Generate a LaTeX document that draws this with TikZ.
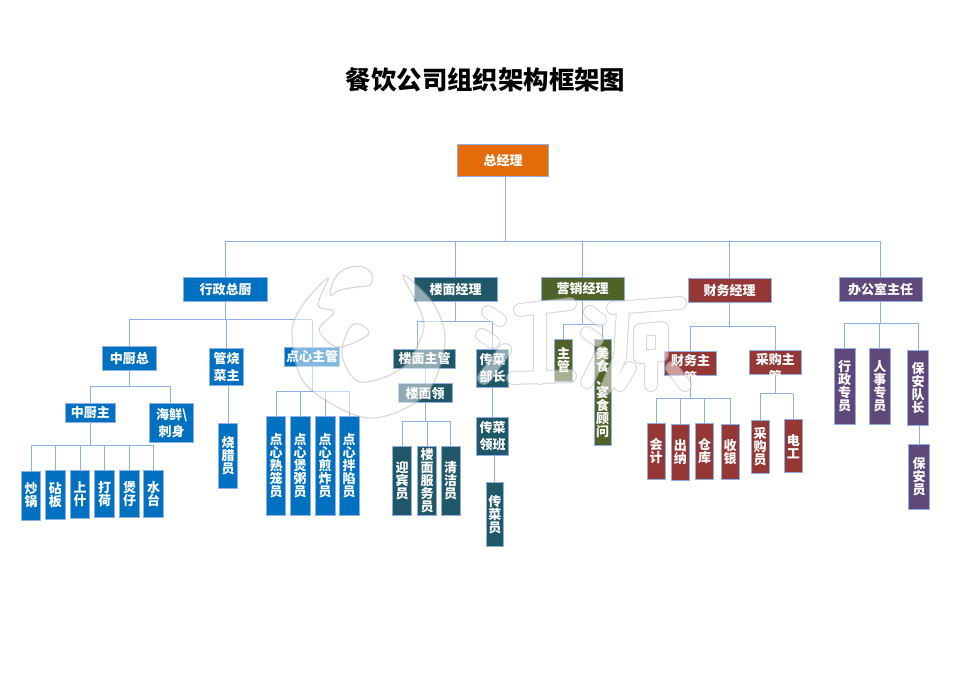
\documentclass[tikz,border=0pt]{standalone}
\usepackage{fontspec}
\setmainfont{Noto Sans CJK SC}
\usepackage{xcolor}
\definecolor{orgorange}{HTML}{E36C0A}
\definecolor{orgblue}{HTML}{0070C0}
\definecolor{orgteal}{HTML}{215868}
\definecolor{orgolive}{HTML}{4F6228}
\definecolor{orgred}{HTML}{953735}
\definecolor{orgpurple}{HTML}{5F497A}
\definecolor{orgline}{HTML}{8DB0E6}
\tikzset{
  orgbox/.style={draw=orgline,line width=.8pt,text=white,inner sep=0pt,align=center,
    font=\fontsize{13}{17}\selectfont\bfseries},
  colbox/.style={orgbox,font=\fontsize{13}{13}\selectfont\bfseries},
  link/.style={draw=orgline,line width=.9pt}
}
\newcommand{\wmletters}{
  (488,312) -- (500,320) (482,335) -- (493,342) (484,378) -- (505,350)
  (520,310) -- (570,304) (540,310) -- (540,378) (513,378) -- (570,376)
  (590,312) -- (600,320) (587,333) -- (597,340) (587,382) -- (602,353)
  (613,308) -- (680,303) (623,310) -- (620,357) -- (607,387)
  (640,330) -- (662,328) -- (662,355) -- (640,357) -- cycle
  (651,357) -- (651,385) (630,368) -- (620,385) (672,368) -- (685,385)
}
\newcommand{\wmlogo}{
  plot[smooth cycle,tension=.55] coordinates {(328,278) (302,306) (292,335) (306,385) (368,418)
    (425,395) (445,342) (433,303) (403,275) (420,310) (423,332) (402,368) (360,382) (342,355)
    (350,327) (362,325) (368,335) (338,347) (319,330) (334,312) (318,305)}
  plot[smooth cycle,tension=.6] coordinates {(330,295) (335,278) (347,268) (363,267) (372,275)
    (370,285) (357,287) (340,290)}
}
\begin{document}
\begin{tikzpicture}[x=1pt,y=-1pt]
  \useasboundingbox (0,0) rectangle (970,685);
  \node (title) at (485.5,80) [font=\fontsize{25.4}{26}\selectfont\bfseries] {餐饮公司组织架构框架图};
  % top
  \node (zjl) at (503,160) [orgbox,fill=orgorange,minimum width=91,minimum height=32] {总经理};
  \node (xz) at (225.5,289.3) [orgbox,fill=orgblue,minimum width=84,minimum height=24] {行政总厨};
  \node (lm) at (455.5,289.3) [orgbox,fill=orgteal,minimum width=83,minimum height=24] {楼面经理};
  \node (yx) at (582.5,289) [orgbox,fill=orgolive,minimum width=83,minimum height=23.5] {营销经理};
  \node (cw) at (729.5,290.3) [orgbox,fill=orgred,minimum width=83,minimum height=24] {财务经理};
  \node (bg) at (880.5,289.3) [orgbox,fill=orgpurple,minimum width=83,minimum height=24] {办公室主任};
  % kitchen
  \node (zcz) at (129.3,358.2) [orgbox,fill=orgblue,minimum width=53.5,minimum height=24] {中厨总};
  \node (gs) at (226.5,366.8) [orgbox,fill=orgblue,minimum width=34,minimum height=37] {管烧\\菜主};
  \node (dx) at (312,356.8) [orgbox,fill=orgblue,minimum width=55,minimum height=19.7] {点心主管};
  \node (zcy) at (90.3,412.8) [orgbox,fill=orgblue,minimum width=50,minimum height=19] {中厨主};
  \node (hx) at (171.7,423) [orgbox,fill=orgblue,minimum width=44,minimum height=39.4] {海鲜\textbackslash\\刺身};
  \node (c1) at (31,495.5) [colbox,fill=orgblue,minimum width=19.5,minimum height=49] {炒\\锅};
  \node (c2) at (55.3,495) [colbox,fill=orgblue,minimum width=20,minimum height=48.5] {砧\\板};
  \node (c3) at (80,494.5) [colbox,fill=orgblue,minimum width=19.7,minimum height=48] {上\\什};
  \node (c4) at (104.5,494) [colbox,fill=orgblue,minimum width=19.7,minimum height=47.5] {打\\荷};
  \node (c5) at (129.5,494) [colbox,fill=orgblue,minimum width=19.7,minimum height=47.5] {煲\\仔};
  \node (c6) at (153.5,494) [colbox,fill=orgblue,minimum width=19.7,minimum height=47.5] {水\\台};
  \node (sl) at (228,455.8) [colbox,fill=orgblue,minimum width=18.7,minimum height=65] {烧\\腊\\员};
  \node (d1) at (276,465.7) [colbox,fill=orgblue,minimum width=19.7,minimum height=99.3] {点\\心\\熟\\笼\\员};
  \node (d2) at (300.2,465.7) [colbox,fill=orgblue,minimum width=19.7,minimum height=99.3] {点\\心\\煲\\粥\\员};
  \node (d3) at (325.2,465.7) [colbox,fill=orgblue,minimum width=19.7,minimum height=99.3] {点\\心\\煎\\炸\\员};
  \node (d4) at (349.2,465.7) [colbox,fill=orgblue,minimum width=19.7,minimum height=99.3] {点\\心\\拌\\陷\\员};
  % floor
  \node (lz) at (424.5,358.8) [orgbox,fill=orgteal,minimum width=62.4,minimum height=19] {楼面主管};
  \node (cb) at (492.7,368.5) [orgbox,fill=orgteal,minimum width=32,minimum height=37.6] {传菜\\部长};
  \node (ll) at (425,393.2) [orgbox,fill=orgteal,minimum width=54,minimum height=19] {楼面领};
  \node (y1) at (402,480.5) [colbox,fill=orgteal,minimum width=19.4,minimum height=69] {迎\\宾\\员};
  \node (y2) at (427,480.5) [colbox,fill=orgteal,minimum width=19.4,minimum height=69] {楼\\面\\服\\务\\员};
  \node (y3) at (450.7,480.5) [colbox,fill=orgteal,minimum width=19.4,minimum height=69] {清\\洁\\员};
  \node (cl) at (492.7,436.5) [orgbox,fill=orgteal,minimum width=32,minimum height=38.4] {传菜\\领班};
  \node (cy) at (494.8,514.3) [colbox,fill=orgteal,minimum width=17.7,minimum height=64] {传\\菜\\员};
  % sales
  \node (yz) at (563.5,360.3) [colbox,fill=orgolive,minimum width=17.7,minimum height=42.7] {主\\管};
  \node (ms) at (602.7,392) [colbox,fill=orgolive,minimum width=17.3,minimum height=106] {美\\食\\、\\宴\\食\\顾\\问};
  % finance
  \node (cwz) at (690.5,363.7) [orgbox,fill=orgred,minimum width=52.4,minimum height=24] {};
  \node (cgz) at (775.3,362.7) [orgbox,fill=orgred,minimum width=52,minimum height=24] {};
  \begin{scope}
    \clip (cwz.south west) rectangle (cwz.north east);
    \node (cwzt) at (690.5,369.5) [orgbox,draw=none] {财务主\\管};
  \end{scope}
  \begin{scope}
    \clip (cgz.south west) rectangle (cgz.north east);
    \node (cgzt) at (775.3,368.5) [orgbox,draw=none] {采购主\\管};
  \end{scope}
  \node (k1) at (656,451.3) [colbox,fill=orgred,minimum width=18,minimum height=56] {会\\计};
  \node (k2) at (680.3,452) [colbox,fill=orgred,minimum width=18,minimum height=56] {出\\纳};
  \node (k3) at (704.7,451.3) [colbox,fill=orgred,minimum width=18,minimum height=56] {仓\\库};
  \node (k4) at (730.2,451.7) [colbox,fill=orgred,minimum width=17.7,minimum height=55.5] {收\\银};
  \node (g1) at (760,446.8) [colbox,fill=orgred,minimum width=18,minimum height=53] {采\\购\\员};
  \node (g2) at (793.3,446.2) [colbox,fill=orgred,minimum width=18,minimum height=53] {电\\工};
  % office
  \node (b1) at (844.5,386.5) [colbox,fill=orgpurple,minimum width=21,minimum height=75.6] {行\\政\\专\\员};
  \node (b2) at (879.8,386.3) [colbox,fill=orgpurple,minimum width=21,minimum height=75.4] {人\\事\\专\\员};
  \node (b3) at (918.2,387.8) [colbox,fill=orgpurple,minimum width=21,minimum height=75.7] {保\\安\\队\\长};
  \node (b4) at (919.2,476.8) [colbox,fill=orgpurple,minimum width=21,minimum height=65] {保\\安\\员};
  % buses
  \coordinate (bus0) at (505,241);
  \coordinate (busxz) at (225,319.7);
  \coordinate (buszc) at (129,386.3);
  \coordinate (hxdrop) at (170,386.3);
  \coordinate (buszy) at (90,445.3);
  \coordinate (busdx) at (312,391.3);
  \coordinate (buslm) at (455,321.3);
  \coordinate (lzdrop) at (417.3,321.3);
  \coordinate (busll) at (425,421.3);
  \coordinate (busyx) at (582,324.3);
  \coordinate (buscw) at (729,326);
  \coordinate (buscz) at (691,398.3);
  \coordinate (buscg) at (776,393.7);
  \coordinate (busbg) at (880,323.3);
  % top links
  \draw[link] (zjl.south -| bus0) -- (bus0);
  \draw[link] (bus0 -| xz.north) -- (bus0 -| bg.north);
  \draw[link] (bus0 -| xz.north) -- (xz.north);
  \draw[link] (bus0 -| lm.north) -- (lm.north);
  \draw[link] (bus0 -| yx.north) -- (yx.north);
  \draw[link] (bus0 -| cw.north) -- (cw.north);
  \draw[link] (bus0 -| bg.north) -- (bg.north);
  % kitchen links
  \draw[link] (xz.south) -- (xz.south |- busxz);
  \draw[link] (busxz -| zcz.north) -- (busxz -| dx.north);
  \draw[link] (busxz -| zcz.north) -- (zcz.north);
  \draw[link] (busxz -| gs.north) -- (gs.north);
  \draw[link] (busxz -| dx.north) -- (dx.north);
  \draw[link] (zcz.south) -- (zcz.south |- buszc);
  \draw[link] (buszc -| zcy.north) -- (hxdrop);
  \draw[link] (buszc -| zcy.north) -- (zcy.north);
  \draw[link] (hxdrop) -- (hxdrop |- hx.north);
  \draw[link] (zcy.south) -- (zcy.south |- buszy);
  \draw[link] (buszy -| c1.north) -- (buszy -| c6.north);
  \draw[link] (buszy -| c1.north) -- (c1.north);
  \draw[link] (buszy -| c2.north) -- (c2.north);
  \draw[link] (buszy -| c3.north) -- (c3.north);
  \draw[link] (buszy -| c4.north) -- (c4.north);
  \draw[link] (buszy -| c5.north) -- (c5.north);
  \draw[link] (buszy -| c6.north) -- (c6.north);
  \draw[link] (gs.south -| sl.north) -- (sl.north);
  \draw[link] (dx.south) -- (dx.south |- busdx);
  \draw[link] (busdx -| d1.north) -- (busdx -| d4.north);
  \draw[link] (busdx -| d1.north) -- (d1.north);
  \draw[link] (busdx -| d2.north) -- (d2.north);
  \draw[link] (busdx -| d3.north) -- (d3.north);
  \draw[link] (busdx -| d4.north) -- (d4.north);
  % floor links
  \draw[link] (lm.south) -- (lm.south |- buslm);
  \draw[link] (lzdrop) -- (buslm -| cb.north);
  \draw[link] (lzdrop) -- (lzdrop |- lz.north);
  \draw[link] (buslm -| cb.north) -- (cb.north);
  \draw[link] (lz.south -| ll.north) -- (ll.north);
  \draw[link] (ll.south) -- (ll.south |- busll);
  \draw[link] (busll -| y1.north) -- (busll -| y3.north);
  \draw[link] (busll -| y1.north) -- (y1.north);
  \draw[link] (busll -| y2.north) -- (y2.north);
  \draw[link] (busll -| y3.north) -- (y3.north);
  \draw[link] (cb.south) -- (cl.north);
  \draw[link] (cl.south -| cy.north) -- (cy.north);
  % sales links
  \draw[link] (yx.south) -- (yx.south |- busyx);
  \draw[link] (busyx -| yz.north) -- (busyx -| ms.north);
  \draw[link] (busyx -| yz.north) -- (yz.north);
  \draw[link] (busyx -| ms.north) -- (ms.north);
  % finance links
  \draw[link] (cw.south) -- (cw.south |- buscw);
  \draw[link] (buscw -| cwz.north) -- (buscw -| cgz.north);
  \draw[link] (buscw -| cwz.north) -- (cwz.north);
  \draw[link] (buscw -| cgz.north) -- (cgz.north);
  \draw[link] (cwz.south) -- (cwz.south |- buscz);
  \draw[link] (buscz -| k1.north) -- (buscz -| k4.north);
  \draw[link] (buscz -| k1.north) -- (k1.north);
  \draw[link] (buscz -| k2.north) -- (k2.north);
  \draw[link] (buscz -| k3.north) -- (k3.north);
  \draw[link] (buscz -| k4.north) -- (k4.north);
  \draw[link] (cgz.south) -- (cgz.south |- buscg);
  \draw[link] (buscg -| g1.north) -- (buscg -| g2.north);
  \draw[link] (buscg -| g1.north) -- (g1.north);
  \draw[link] (buscg -| g2.north) -- (g2.north);
  % office links
  \draw[link] (bg.south) -- (bg.south |- busbg);
  \draw[link] (busbg -| b1.north) -- (busbg -| b3.north);
  \draw[link] (busbg -| b1.north) -- (b1.north);
  \draw[link] (busbg -| b2.north) -- (b2.north);
  \draw[link] (busbg -| b3.north) -- (b3.north);
  \draw[link] (b3.south -| b4.north) -- (b4.north);
  % watermark
  \begin{scope}[transparency group,opacity=.5]
    \fill[white,draw=black!30,line width=1.2pt] \wmlogo;
    \draw[black!30,line width=14pt,line cap=round,line join=round] \wmletters;
    \draw[white,line width=11.8pt,line cap=round,line join=round] \wmletters;
  \end{scope}
\end{tikzpicture}
\end{document}
